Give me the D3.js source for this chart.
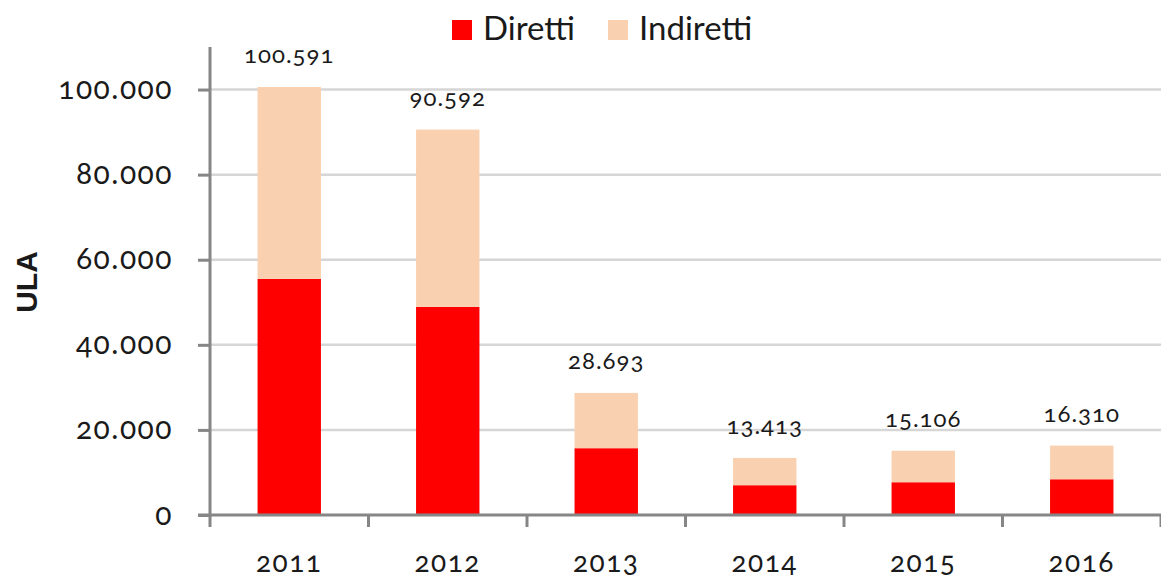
<!DOCTYPE html>
<html>
<head>
<meta charset="utf-8">
<script src="https://cdn.jsdelivr.net/npm/d3@7"></script>
<style>
  body { margin: 0; background: #fff; }
  svg text { font-family: Lato, "Open Sans", sans-serif; font-feature-settings: "onum" 1; fill: #1a1a1a; }
</style>
</head>
<body>
<div class="chart"></div>
<script>
const years = ['2011', '2012', '2013', '2014', '2015', '2016']
const diretti = [55500, 48900, 15700, 7000, 7700, 8400]
const totals = [100591, 90592, 28693, 13413, 15106, 16310]
const indiretti = totals.map((t, i) => t - diretti[i])
const yTicks = [0, 20000, 40000, 60000, 80000, 100000]
const seriesNames = ['Diretti', 'Indiretti']
const colors = ['#ff0000', '#fad1b0']

const width = 1161, height = 580
const margin = {top: 47, right: 0, bottom: 65, left: 210}

const it = d3.formatLocale({decimal: ',', thousands: '.', grouping: [3], currency: ['€', '']})
const fmt = it.format(',d')

const svg = d3.select('.chart').append('svg')
    .attr('width', width)
    .attr('height', height)

const x = d3.scaleBand()
    .domain(years)
    .range([margin.left, width - margin.right])
    .paddingInner(0.6)
    .paddingOuter(0.3)

const y = d3.scaleLinear()
    .domain([0, 110000])
    .range([height - margin.bottom, margin.top])

// gridlines
svg.append('g')
  .selectAll('line')
  .data(yTicks.filter(d => d > 0))
  .join('line')
    .attr('x1', margin.left)
    .attr('x2', width)
    .attr('y1', d => y(d))
    .attr('y2', d => y(d))
    .attr('stroke', '#d6d6d6')
    .attr('stroke-width', 2.5)

// stacked bars
const rows = years.map((yr, i) => ({year: yr, Diretti: diretti[i], Indiretti: indiretti[i]}))
const stacked = d3.stack().keys(seriesNames)(rows)

svg.append('g')
  .selectAll('g')
  .data(stacked)
  .join('g')
    .attr('fill', (d, i) => colors[i])
  .selectAll('rect')
  .data(d => d)
  .join('rect')
    .attr('x', d => x(d.data.year))
    .attr('width', x.bandwidth())
    .attr('y', d => y(d[1]))
    .attr('height', d => y(d[0]) - y(d[1]))

// total labels
svg.append('g')
  .selectAll('text')
  .data(totals)
  .join('text')
    .attr('x', (d, i) => x(years[i]) + x.bandwidth() / 2)
    .attr('y', d => y(d) - 24)
    .attr('text-anchor', 'middle')
    .style('font-size', '24px')
    .style('letter-spacing', '1px')
    .text(d => fmt(d))

// y axis
const yAxis = svg.append('g')
    .attr('transform', `translate(${margin.left},0)`)
    .call(d3.axisLeft(y).tickValues(yTicks).tickFormat(fmt).tickSize(12).tickSizeOuter(0))
yAxis.select('.domain').attr('stroke', '#868686').attr('stroke-width', 3)
  .attr('d', `M0,${margin.top}V${height - margin.bottom + 12}`)
yAxis.selectAll('.tick line').attr('stroke', '#868686').attr('stroke-width', 3)
yAxis.selectAll('.tick text')
    .attr('x', -37)
    .attr('dy', '0.3em')
    .style('font-size', '30px')
    .style('letter-spacing', '1.5px')

// x axis
const tickPos = d3.range(years.length + 1).map(i => margin.left + i * x.step())
const xAxis = svg.append('g')
xAxis.append('line')
    .attr('x1', margin.left - 12)
    .attr('x2', width)
    .attr('y1', y(0))
    .attr('y2', y(0))
    .attr('stroke', '#868686')
    .attr('stroke-width', 3)
xAxis.selectAll('.xt')
  .data(tickPos.slice(1))
  .join('line')
    .attr('class', 'xt')
    .attr('x1', d => d)
    .attr('x2', d => d)
    .attr('y1', y(0))
    .attr('y2', y(0) + 12)
    .attr('stroke', '#868686')
    .attr('stroke-width', 3)
xAxis.selectAll('text')
  .data(years)
  .join('text')
    .attr('x', d => x(d) + x.bandwidth() / 2)
    .attr('y', 572)
    .attr('text-anchor', 'middle')
    .style('font-size', '28px')
    .style('letter-spacing', '1.5px')
    .text(d => d)

// y title
svg.append('text')
    .attr('transform', 'translate(37,282) rotate(-90)')
    .attr('text-anchor', 'middle')
    .style('font-size', '30px')
    .style('font-weight', 'bold')
    .style('font-family', '"Liberation Sans", Arial, sans-serif')
    .text('ULA')

// legend
const legendX = [452, 608]
const legend = svg.append('g')
  .selectAll('g')
  .data(seriesNames)
  .join('g')
    .attr('transform', (d, i) => `translate(${legendX[i]},20)`)
legend.append('rect')
    .attr('width', 20)
    .attr('height', 20)
    .attr('fill', (d, i) => colors[i])
legend.append('text')
    .attr('x', 31)
    .attr('y', 20)
    .style('font-size', '33px')
    .text(d => d)
</script>
</body>
</html>
